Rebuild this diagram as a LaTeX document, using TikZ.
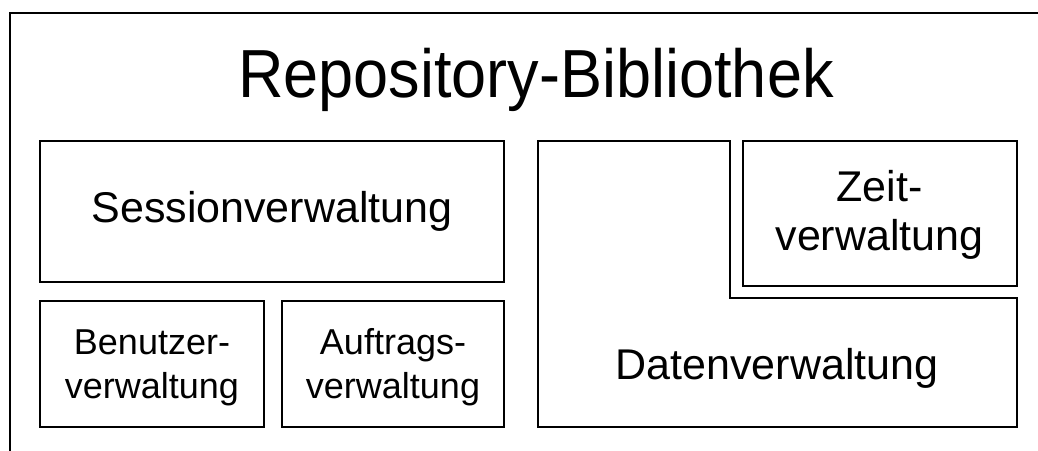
\documentclass[tikz,border=0pt]{standalone}
\usepackage{fontspec}
\setmainfont{Liberation Sans}
\begin{document}
\begin{tikzpicture}[x=1pt,y=-1pt,
  box/.style={draw=black,line width=2pt,rectangle,inner sep=0pt,align=center},
  bigtext/.style={font=\fontsize{43}{49}\selectfont},
  smalltext/.style={font=\fontsize{36}{44}\selectfont}]
\path[use as bounding box,clip] (0,0) rectangle (1038,450);
\fill[white] (0,0) rectangle (1038,450);
\draw[line width=2pt] (9.5,470) -- (9.5,12.5) -- (1060,12.5);
\node[font=\fontsize{63}{70}\selectfont,anchor=base,inner sep=0pt] (title) at (536,97) {\scalebox{1}[1.08]{Repository-Bibliothek}};
\node[box,bigtext,minimum width=464pt,minimum height=141.5pt] (session) at (272,211.25) {Sessionverwaltung};
\node[box,minimum width=224pt,minimum height=126pt] (benutzer) at (152,363.5) {};
\node[box,minimum width=222pt,minimum height=126pt] (auftrag) at (393,363.5) {};
\node[smalltext,align=center,anchor=base] (benutzerlabel) at (152,398.5) {Benutzer-\\verwaltung};
\node[smalltext,align=center,anchor=base] (auftraglabel) at (393,398.5) {Auftrags-\\verwaltung};
\draw[line width=2pt,line join=miter] (537.5,140.5) -- (730,140.5) -- (730,298) -- (1016.5,298) -- (1016.5,426.5) -- (537.5,426.5) -- cycle;
\node[bigtext,anchor=base] (daten) at (777,379) {Datenverwaltung};
\node[box,minimum width=274pt,minimum height=145.5pt] (zeit) at (879.5,213.25) {};
\node[bigtext,align=center,anchor=base] (zeitlabel) at (879.5,250) {Zeit-\\verwaltung};
\end{tikzpicture}
\end{document}
